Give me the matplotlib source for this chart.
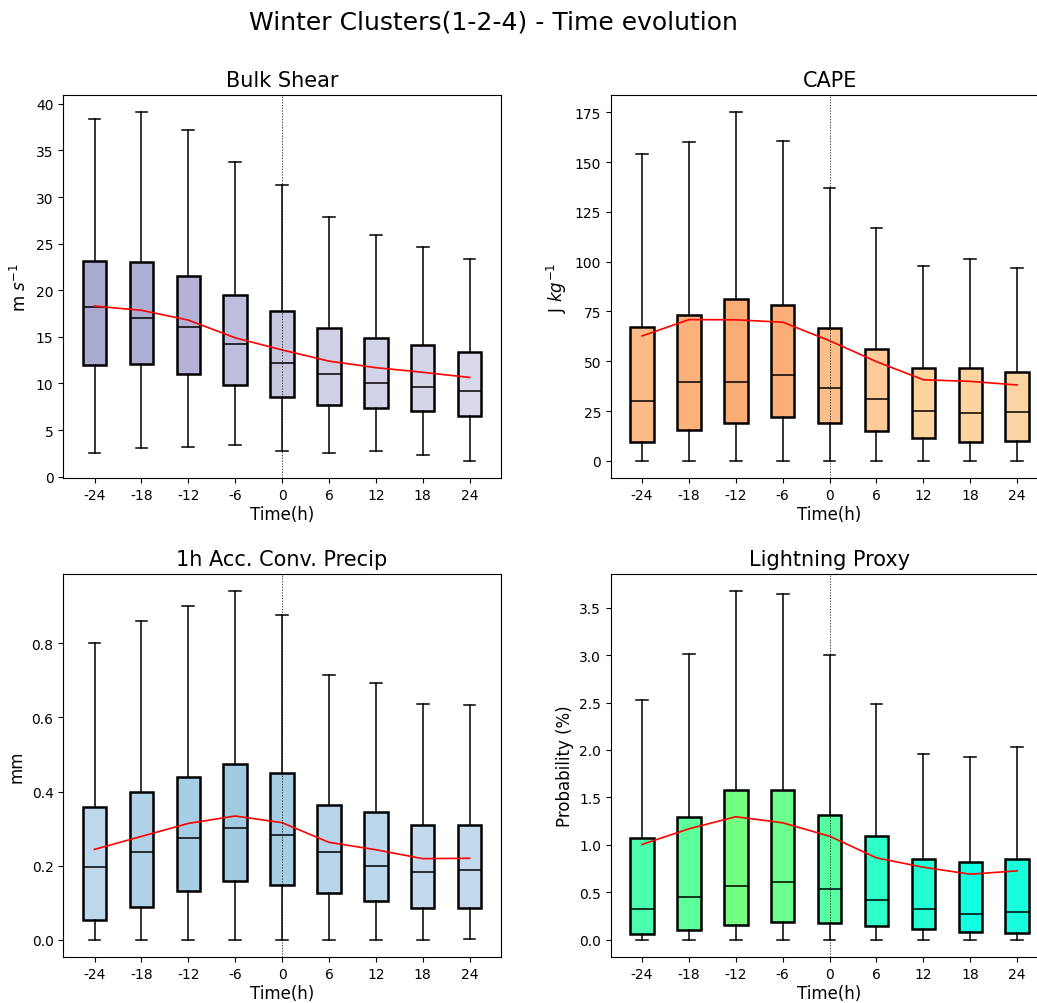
import matplotlib
matplotlib.use("Agg")
import matplotlib.pyplot as plt

hours = ['-24', '-18', '-12', '-6', '0', '6', '12', '18', '24']

# Bulk Shear (m s-1)
shear_lo = [2.5, 3.05, 3.15, 3.45, 2.75, 2.5, 2.75, 2.3, 1.7]
shear_q1 = [12.0, 12.1, 11.0, 9.8, 8.6, 7.7, 7.4, 7.0, 6.5]
shear_med = [18.2, 17.0, 16.1, 14.2, 12.2, 11.0, 10.1, 9.6, 9.2]
shear_q3 = [23.15, 23.0, 21.5, 19.5, 17.75, 15.9, 14.9, 14.1, 13.4]
shear_hi = [38.35, 39.1, 37.2, 33.8, 31.3, 27.9, 25.9, 24.6, 23.4]
shear_mean = [18.3, 17.85, 16.8, 14.9, 13.6, 12.4, 11.7, 11.2, 10.65]
shear_col = ['#aaa9d0', '#aeadd3', '#b4b3d7', '#bebddd', '#c8c7e2',
             '#cfcfe6', '#d2d2e8', '#d5d5e9', '#d9d9eb']

# CAPE (J kg-1)
cape_lo = [0, 0, 0, 0, 0, 0, 0, 0, 0]
cape_q1 = [9.25, 15.4, 19.1, 22.0, 19.1, 15.1, 11.4, 9.55, 10.2]
cape_med = [30.2, 39.4, 39.4, 43.3, 36.6, 31.2, 25.0, 24.1, 24.3]
cape_q3 = [67.2, 73.3, 81.3, 78.0, 66.7, 56.2, 46.5, 46.8, 44.8]
cape_hi = [154.1, 159.8, 175.0, 160.4, 136.8, 116.7, 97.9, 101.4, 96.6]
cape_mean = [62.7, 70.9, 70.8, 69.6, 60.3, 49.8, 40.7, 39.9, 38.1]
cape_col = ['#fdbb87', '#fcb07a', '#fbab74', '#fbae77', '#fdbf8a',
            '#fdcb98', '#fdd4a0', '#fdd4a0', '#fdd5a2']

# 1h accumulated convective precipitation (mm)
prec_lo = [0.0, 0.0, 0.0, 0.0, 0.0, 0.0, 0.0, 0.0, 0.002]
prec_q1 = [0.054, 0.089, 0.132, 0.158, 0.149, 0.126, 0.105, 0.085, 0.086]
prec_med = [0.197, 0.238, 0.276, 0.302, 0.282, 0.238, 0.200, 0.183, 0.189]
prec_q3 = [0.358, 0.399, 0.440, 0.474, 0.449, 0.363, 0.346, 0.309, 0.309]
prec_hi = [0.800, 0.861, 0.901, 0.940, 0.877, 0.713, 0.693, 0.635, 0.632]
prec_mean = [0.244, 0.279, 0.314, 0.334, 0.316, 0.263, 0.243, 0.219, 0.220]
prec_col = ['#bdd7ec', '#b2d2e8', '#a6cee4', '#a0cae1', '#a5cde3',
            '#b7d4ea', '#bcd7eb', '#c3daee', '#c3daee']

# Lightning proxy (%)
ltg_lo = [0, 0, 0, 0, 0, 0, 0, 0, 0]
ltg_q1 = [0.059, 0.105, 0.154, 0.186, 0.179, 0.151, 0.116, 0.080, 0.077]
ltg_med = [0.323, 0.456, 0.572, 0.611, 0.537, 0.418, 0.323, 0.274, 0.291]
ltg_q3 = [1.068, 1.297, 1.577, 1.581, 1.314, 1.089, 0.854, 0.818, 0.857]
ltg_hi = [2.523, 3.011, 3.672, 3.647, 3.0, 2.480, 1.961, 1.925, 2.027]
ltg_mean = [1.005, 1.17, 1.297, 1.233, 1.092, 0.864, 0.765, 0.692, 0.727]
ltg_col = ['#4affad', '#5cff9a', '#75ff80', '#6bff8b', '#56ffa0',
           '#2effc8', '#20ffd6', '#13ffe3', '#18ffde']

panels = [
    ('Bulk Shear', r'm $s^{-1}$', shear_lo, shear_q1, shear_med, shear_q3, shear_hi, shear_mean, shear_col),
    ('CAPE', r'J $kg^{-1}$', cape_lo, cape_q1, cape_med, cape_q3, cape_hi, cape_mean, cape_col),
    ('1h Acc. Conv. Precip', 'mm', prec_lo, prec_q1, prec_med, prec_q3, prec_hi, prec_mean, prec_col),
    ('Lightning Proxy', 'Probability (%)', ltg_lo, ltg_q1, ltg_med, ltg_q3, ltg_hi, ltg_mean, ltg_col),
]

fig = plt.figure(figsize=(10.37, 10.04), dpi=100)
fig.suptitle('Winter Clusters(1-2-4) - Time evolution', fontsize=18, x=0.476, y=0.99)

rects = [
    [0.061, 0.5226, 0.422, 0.382],
    [0.589, 0.5226, 0.422, 0.382],
    [0.061, 0.0455, 0.422, 0.382],
    [0.589, 0.0455, 0.422, 0.382],
]

pos = list(range(1, len(hours) + 1))

for rect, (title, ylab, lo, q1, med, q3, hi, mean, cols) in zip(rects, panels):
    ax = fig.add_axes(rect)
    stats = [dict(whislo=lo[i], q1=q1[i], med=med[i], q3=q3[i], whishi=hi[i], fliers=[])
             for i in range(len(hours))]
    bp = ax.bxp(stats, positions=pos, widths=0.5, patch_artist=True, showfliers=False,
                boxprops=dict(linewidth=1.8, edgecolor='black'),
                whiskerprops=dict(linewidth=1.1, color='black'),
                capprops=dict(linewidth=1.1, color='black'),
                medianprops=dict(linewidth=1.1, color='black'))
    for patch, c in zip(bp['boxes'], cols):
        patch.set_facecolor(c)
    ax.plot(pos, mean, color='red', linewidth=1.2, zorder=4)
    ax.axvline(5, color='black', linestyle=(0, (2, 2)), linewidth=0.5, zorder=5)
    ax.set_xlim(1 / 3, 9 + 2 / 3)
    ax.set_xticks(pos)
    ax.set_xticklabels(hours)
    ax.tick_params(labelsize=10)
    ax.set_title(title, fontsize=15)
    ax.set_xlabel('Time(h)', fontsize=12, labelpad=2)
    ax.set_ylabel(ylab, fontsize=12)

fig.savefig('out.png', dpi=100)
